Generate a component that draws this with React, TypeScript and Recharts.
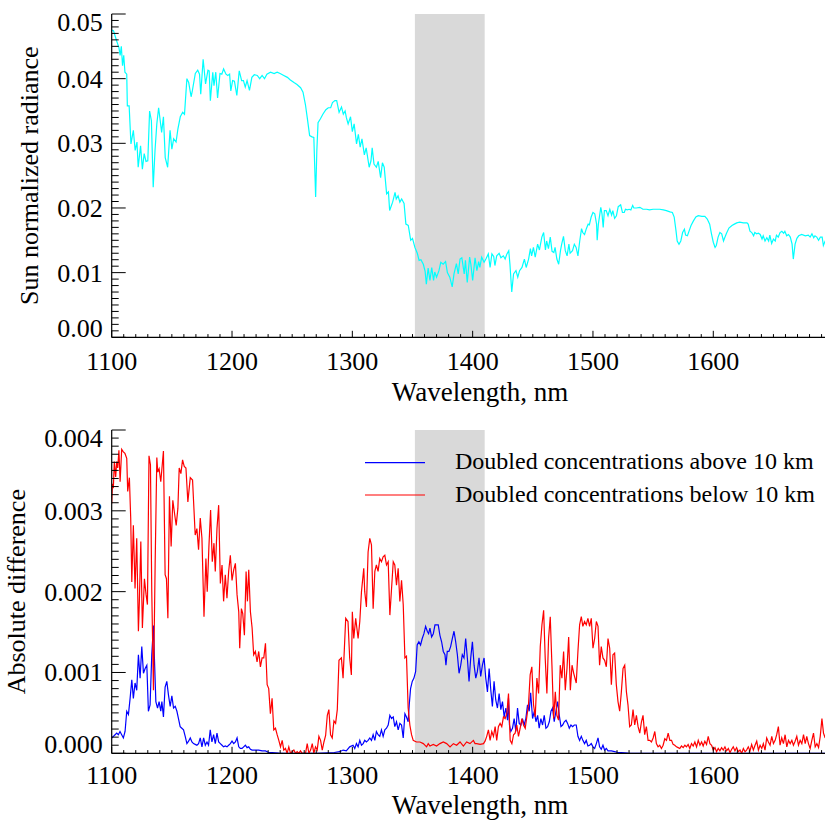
import React from 'react';
import { LineChart, Line, XAxis, YAxis, ReferenceArea, Legend } from 'recharts';

const FONT = '"Liberation Serif", "Times New Roman", serif';

// shared wavelength axis (nm) and shaded window
const xDomain: [number, number] = [1100, 1700];
const bandNm: [number, number] = [1352, 1410];
const xLabels = [1100, 1200, 1300, 1400, 1500, 1600];
const xTicks = Array.from({ length: 61 }, (_, i) => 1100 + i * 10);
const topYTicks = Array.from({ length: 51 }, (_, i) => i / 1000);
const bottomYTicks = Array.from({ length: 41 }, (_, i) => i / 10000);

// top panel: sun normalized radiance [nm, value]
const radiance: [number, number][] = [
  [1100, 0.0475], [1101.5, 0.0474], [1104, 0.0459], [1106, 0.0448], [1107, 0.0436], [1108, 0.045],
  [1109, 0.042], [1110, 0.0436], [1111, 0.041], [1112.5, 0.0407], [1113, 0.0358], [1114.5, 0.0358],
  [1116, 0.0299], [1118, 0.032], [1119.5, 0.0289], [1121, 0.0302], [1122, 0.0263], [1124, 0.0296],
  [1125.5, 0.026], [1127, 0.0284], [1128.5, 0.0272], [1130, 0.0273], [1131.5, 0.035], [1133, 0.0335],
  [1134.5, 0.0232], [1136, 0.0289], [1137.5, 0.033], [1139, 0.0355], [1140, 0.034], [1141.5, 0.0317],
  [1143, 0.0341], [1144.5, 0.0278], [1146.5, 0.0263], [1148.5, 0.032], [1150, 0.0291], [1151.5, 0.0307],
  [1153.5, 0.0302], [1155, 0.0322], [1157, 0.0341], [1159, 0.0348], [1160.5, 0.0345], [1162.5, 0.04],
  [1164, 0.0394], [1166, 0.0372], [1167, 0.0381], [1169.5, 0.0408], [1171.5, 0.0413], [1173, 0.0407],
  [1174, 0.0376], [1176, 0.043], [1178, 0.0392], [1180, 0.0413], [1181, 0.0412], [1182, 0.0366],
  [1184, 0.041], [1185, 0.0389], [1186.5, 0.041], [1188, 0.037], [1190, 0.0408], [1191.5, 0.0407],
  [1193, 0.0415], [1195, 0.0407], [1196.5, 0.0405], [1198, 0.0407], [1199, 0.0381], [1200.5, 0.0397],
  [1202, 0.0396], [1204, 0.0374], [1206, 0.0412], [1208, 0.0397], [1209.5, 0.0397], [1211, 0.0387],
  [1212.5, 0.0397], [1214.5, 0.0382], [1216.5, 0.0402], [1218.5, 0.0406], [1221, 0.0405], [1223, 0.04],
  [1225, 0.0405], [1227, 0.04], [1229, 0.0407], [1232, 0.041], [1235, 0.0408], [1237.5, 0.041],
  [1240, 0.0408], [1243, 0.0405], [1246, 0.0402], [1248.5, 0.0398], [1251.5, 0.0394], [1254, 0.0391],
  [1257, 0.0386], [1259, 0.0379], [1261, 0.036], [1262.5, 0.034], [1264.5, 0.0312], [1266.5, 0.031],
  [1268, 0.0309], [1269.5, 0.0217], [1270.5, 0.0289], [1271.5, 0.0332], [1273.5, 0.0338], [1275.5, 0.0345],
  [1278, 0.0352], [1280, 0.0355], [1282, 0.0355], [1283.5, 0.0363], [1285.5, 0.0366], [1287, 0.0366],
  [1289, 0.0348], [1291, 0.0356], [1292.5, 0.0345], [1294, 0.035], [1295, 0.034], [1296.5, 0.033],
  [1298.5, 0.0341], [1300, 0.0318], [1301.5, 0.033], [1303.5, 0.0299], [1305, 0.0314], [1306.5, 0.0294],
  [1308, 0.0307], [1310, 0.0282], [1311.5, 0.0293], [1314, 0.0263], [1315.5, 0.0273], [1316.5, 0.0293],
  [1318, 0.0268], [1320, 0.0263], [1321.5, 0.0272], [1323.5, 0.0247], [1325, 0.027], [1326.5, 0.0263],
  [1328.5, 0.0222], [1330, 0.0225], [1331, 0.0196], [1333.5, 0.0209], [1335.5, 0.0224], [1336.5, 0.0214],
  [1338, 0.0219], [1339.5, 0.0209], [1341, 0.0214], [1343, 0.0207], [1344.5, 0.0175], [1346.5, 0.0173],
  [1348.5, 0.015], [1350, 0.0153], [1352, 0.0139], [1354, 0.013], [1355.5, 0.0119], [1357, 0.012],
  [1359, 0.0113], [1360.5, 0.0102], [1361.5, 0.0082], [1363, 0.0107], [1364.5, 0.0088], [1366, 0.0108],
  [1367.5, 0.0088], [1368.5, 0.0101], [1370, 0.0093], [1372, 0.0103], [1373.5, 0.0116], [1375.5, 0.0113],
  [1377.5, 0.0117], [1379, 0.01], [1381, 0.0093], [1383, 0.0078], [1384.5, 0.0098], [1386.5, 0.0114],
  [1388, 0.0098], [1389.5, 0.0121], [1391, 0.0123], [1393, 0.0098], [1394, 0.0119], [1395.5, 0.0085],
  [1397.5, 0.0124], [1398.5, 0.0113], [1400, 0.0088], [1402, 0.0123], [1403.5, 0.0103], [1405, 0.0117],
  [1406, 0.0108], [1407.5, 0.0124], [1409.5, 0.0116], [1411, 0.0121], [1413, 0.0129], [1414.5, 0.0108],
  [1416, 0.0129], [1417.5, 0.0125], [1418.5, 0.0111], [1420, 0.0126], [1422, 0.013], [1423.5, 0.0123],
  [1425.5, 0.0126], [1427, 0.0121], [1428.5, 0.0129], [1430, 0.0134], [1431, 0.0113], [1432.5, 0.007],
  [1434, 0.0098], [1436, 0.0103], [1437.5, 0.0093], [1439, 0.0103], [1441, 0.0108], [1443, 0.0121],
  [1444.5, 0.0108], [1446.5, 0.0121], [1448, 0.0137], [1449, 0.0126], [1450.5, 0.0139], [1452, 0.0124],
  [1454, 0.0144], [1455.5, 0.0135], [1457.5, 0.0155], [1459, 0.0162], [1460.5, 0.0135], [1461.5, 0.0149],
  [1463, 0.0137], [1464.5, 0.0155], [1466, 0.0133], [1467.5, 0.0131], [1468.5, 0.0139], [1470, 0.0121],
  [1471.5, 0.0113], [1473, 0.0134], [1474, 0.0144], [1475.5, 0.0156], [1477, 0.0134], [1478.5, 0.0126],
  [1480, 0.0144], [1481, 0.013], [1483, 0.0134], [1484.5, 0.0144], [1486, 0.0139], [1487.5, 0.0126],
  [1489, 0.0149], [1490.5, 0.0168], [1491.5, 0.0162], [1493, 0.0159], [1494.5, 0.0168], [1496, 0.0175],
  [1497, 0.0174], [1498.5, 0.0186], [1500, 0.0193], [1501.5, 0.0191], [1503, 0.0175], [1503.5, 0.015],
  [1504.5, 0.0175], [1506.5, 0.0201], [1507.5, 0.0191], [1508.5, 0.017], [1509.5, 0.0196], [1511, 0.0196],
  [1512.5, 0.0188], [1514, 0.0198], [1515.5, 0.0189], [1516.5, 0.0196], [1518, 0.0184], [1519.5, 0.0188],
  [1521, 0.0202], [1523, 0.0205], [1524.5, 0.0193], [1526, 0.0193], [1527, 0.0198], [1528.5, 0.0197],
  [1530, 0.0198], [1531.5, 0.0197], [1533, 0.0204], [1534, 0.02], [1536, 0.02], [1539, 0.0201],
  [1541.5, 0.0198], [1544.5, 0.0198], [1547, 0.0197], [1550, 0.0198], [1553, 0.0198], [1555.5, 0.0198],
  [1558.5, 0.0197], [1561, 0.0196], [1564, 0.0194], [1566, 0.0193], [1567.5, 0.0186], [1569, 0.0165],
  [1570, 0.0149], [1571.5, 0.0144], [1573, 0.0149], [1574.5, 0.0162], [1576, 0.0167], [1577, 0.0158],
  [1578.5, 0.0157], [1580, 0.0165], [1581.5, 0.0173], [1583.5, 0.018], [1585.5, 0.0186], [1587.5, 0.0188],
  [1590.5, 0.0187], [1593, 0.0187], [1595, 0.0183], [1597, 0.0175], [1598.5, 0.016], [1600, 0.0147],
  [1601.5, 0.0139], [1602.5, 0.0142], [1604, 0.0155], [1605.5, 0.0162], [1607, 0.016], [1608.5, 0.0149],
  [1609.5, 0.0154], [1611, 0.0161], [1613, 0.0169], [1615.5, 0.0173], [1617.5, 0.0175], [1619.5, 0.0177],
  [1622, 0.0178], [1625, 0.0177], [1628, 0.0177], [1629, 0.0175], [1630.5, 0.0164], [1632, 0.0162],
  [1633.5, 0.0157], [1634.5, 0.0162], [1636, 0.016], [1637.5, 0.0161], [1639, 0.0159], [1640.5, 0.0152],
  [1641.5, 0.0157], [1643, 0.0149], [1644.5, 0.0154], [1646, 0.0149], [1647, 0.0158], [1648.5, 0.0145],
  [1650, 0.0152], [1651.5, 0.0149], [1652.5, 0.0158], [1654, 0.0155], [1655.5, 0.0162], [1657, 0.0164],
  [1658.5, 0.0161], [1659.5, 0.0164], [1661, 0.0157], [1662.5, 0.0159], [1664, 0.0155], [1665.5, 0.0144],
  [1666.5, 0.0121], [1668, 0.0144], [1669.5, 0.0153], [1671, 0.0157], [1673.5, 0.0159], [1676.5, 0.0157],
  [1679, 0.0158], [1680.5, 0.0155], [1682, 0.016], [1683.5, 0.0154], [1684.5, 0.0157], [1686, 0.0155],
  [1687.5, 0.015], [1689, 0.0155], [1690.5, 0.0155], [1691.5, 0.0142], [1693, 0.0149], [1695, 0.015],
];

// bottom panel: doubled concentrations above 10 km [nm, value]
const above: [number, number][] = [
  [1100, 0.00019], [1101.4, 0.00021], [1102.8, 0.00023], [1104.2, 0.00025], [1105.5, 0.00023], [1106.9, 0.00027],
  [1108.3, 0.00023], [1109.7, 0.00019], [1111.1, 0.00027], [1112.5, 0.00052], [1113.9, 0.00048], [1115.3, 0.00068],
  [1116.7, 0.00091], [1118, 0.00068], [1119.4, 0.00087], [1120.8, 0.00078], [1122.2, 0.00122], [1123.6, 0.00093],
  [1125, 0.00132], [1126.4, 0.00099], [1127.8, 0.00105], [1129.2, 0.00109], [1130.5, 0.00052], [1131.9, 0.0006],
  [1133.3, 0.00122], [1134.7, 0.00158], [1135.5, 0.00118], [1136.7, 0.00064], [1138.1, 0.00056], [1139.4, 0.00064],
  [1140.8, 0.00052], [1141.7, 0.00064], [1143, 0.00045], [1144.4, 0.00082], [1145.8, 0.00089], [1147.2, 0.00072],
  [1148.6, 0.00058], [1150, 0.00071], [1151.4, 0.00056], [1152.8, 0.00058], [1154.2, 0.00052], [1155.5, 0.00043],
  [1156.9, 0.00033], [1158.3, 0.00031], [1159.7, 0.00029], [1161.1, 0.00021], [1162.5, 0.00012], [1163.9, 0.00015],
  [1165.3, 0.00019], [1166.7, 0.00014], [1168, 0.00012], [1169.4, 0.00011], [1170.8, 0.0001], [1172.2, 0.00012],
  [1173.6, 0.00019], [1175, 0.00008], [1176.4, 0.00019], [1177.8, 0.0001], [1179.2, 0.00014], [1180.5, 0.0001],
  [1181.9, 0.00029], [1183.3, 0.00014], [1184.7, 0.00023], [1186.1, 0.00012], [1187.5, 0.00025], [1188.9, 0.00014],
  [1190.3, 0.00012], [1191.7, 0.0001], [1193, 0.00008], [1194.4, 0.00009], [1195.8, 0.00008], [1197.2, 0.0001],
  [1198.6, 0.00012], [1200, 0.00015], [1201.4, 0.00012], [1202.8, 0.00014], [1204.2, 0.00019], [1205.6, 0.00008],
  [1206.9, 0.00006], [1208.3, 0.00006], [1209.7, 0.00008], [1211.1, 0.0001], [1212.5, 0.00007], [1213.9, 0.00008],
  [1215.3, 0.00005], [1216.7, 0.00004], [1219.4, 0.00004], [1222.2, 0.00004], [1225, 0.00003], [1227.8, 0.00003],
  [1230.5, 0.00001], [1233.3, 0.00001], [1238.9, 0.000004], [1247.2, 0], [1270, 0], [1285, 0.00001],
  [1289.5, 0.00002], [1292.3, 0.00004], [1295, 0.00003], [1297.8, 0.00008], [1300.6, 0.0001], [1302, 0.00006],
  [1303.4, 0.00012], [1304.8, 0.00008], [1306.2, 0.00016], [1307.6, 0.0001], [1309, 0.00012], [1310.3, 0.00016],
  [1311.7, 0.00014], [1313.1, 0.00016], [1314.5, 0.00019], [1315.9, 0.00016], [1317.3, 0.00023], [1318.7, 0.00016],
  [1320, 0.00027], [1321.4, 0.00023], [1322.8, 0.00021], [1324.2, 0.00029], [1325.6, 0.00021], [1327, 0.00029],
  [1328.4, 0.00031], [1329.8, 0.00035], [1331.2, 0.00047], [1332.6, 0.00043], [1334, 0.00045], [1335.3, 0.00033],
  [1336.7, 0.00039], [1338.1, 0.00029], [1339.5, 0.00037], [1340.9, 0.00035], [1342.3, 0.00019], [1343.7, 0.00049],
  [1345, 0.00045], [1346.4, 0.00039], [1347.3, 0.0006], [1348.4, 0.0008], [1349.8, 0.00089], [1351.2, 0.00093],
  [1352.6, 0.00101], [1353.9, 0.00134], [1355.3, 0.00138], [1356.7, 0.00134], [1358.1, 0.00142], [1359.5, 0.00148],
  [1360.9, 0.00157], [1362.3, 0.00151], [1363.4, 0.00148], [1364.5, 0.00155], [1365.9, 0.00144], [1367.3, 0.00148],
  [1368.7, 0.00159], [1370, 0.00159], [1371.4, 0.00159], [1372.8, 0.00146], [1374.2, 0.00138], [1375.6, 0.00126],
  [1377, 0.00122], [1377.8, 0.00109], [1378.9, 0.00126], [1380.3, 0.00126], [1381.7, 0.00132], [1383.1, 0.00142],
  [1384.5, 0.00151], [1385.9, 0.00138], [1387.3, 0.00122], [1388.7, 0.00099], [1390.1, 0.00109], [1391.4, 0.00122],
  [1392.8, 0.00118], [1394.2, 0.00142], [1395.6, 0.00118], [1397, 0.00089], [1398.4, 0.00118], [1399.8, 0.00138],
  [1401.2, 0.00109], [1402.6, 0.00093], [1403.9, 0.00101], [1405.3, 0.00118], [1406.7, 0.00095], [1408.1, 0.00109],
  [1409.5, 0.00118], [1410.9, 0.00093], [1412.3, 0.00076], [1413.7, 0.00105], [1415.1, 0.00078], [1416.4, 0.00058],
  [1417.8, 0.00089], [1419.2, 0.00066], [1420.6, 0.00056], [1422, 0.00074], [1423.4, 0.00054], [1424.8, 0.00064],
  [1426.2, 0.00045], [1427.6, 0.00056], [1429, 0.00041], [1429.8, 0.00068], [1430.6, 0.00035], [1431.7, 0.00027],
  [1433.1, 0.00031], [1434.5, 0.00043], [1435.9, 0.00027], [1437.3, 0.00056], [1438.7, 0.00037], [1440.1, 0.00035],
  [1441.4, 0.00043], [1442.8, 0.00035], [1444.2, 0.00043], [1445.6, 0.0006], [1447, 0.00052], [1448.2, 0.00075],
  [1449.8, 0.00043], [1451.2, 0.00052], [1452.6, 0.00039], [1454, 0.00047], [1455.3, 0.00031], [1456.7, 0.00043],
  [1458.1, 0.00035], [1459.5, 0.00047], [1460.9, 0.00031], [1462.3, 0.00033], [1463.7, 0.00039], [1465.1, 0.00052],
  [1466.4, 0.00056], [1467.8, 0.00039], [1469.2, 0.00052], [1470.6, 0.00064], [1472, 0.00047], [1473.4, 0.00033],
  [1474.8, 0.00035], [1476.2, 0.00039], [1477.6, 0.00041], [1478.9, 0.00037], [1480.3, 0.00031], [1481.7, 0.00035],
  [1483.1, 0.00033], [1484.5, 0.00035], [1486.1, 0.00035], [1487.5, 0.00021], [1488.9, 0.00016], [1490.3, 0.00021],
  [1491.6, 0.00016], [1493, 0.00012], [1494.4, 0.00016], [1495.8, 0.00009], [1497.2, 0.0001], [1498.6, 0.00012],
  [1500, 0.00008], [1501.4, 0.00006], [1502.8, 0.00012], [1504.2, 0.00019], [1505.5, 0.00008], [1506.9, 0.00005],
  [1508.3, 0.0001], [1509.7, 0.00004], [1511.1, 0.00006], [1512.5, 0.00003], [1515.3, 0.00003], [1518, 0.00002],
  [1520.8, 0.00001], [1523.6, 0.00001], [1529.1, 0.000004], [1540.3, 0], [1600, 0], [1695, 0],
];

// bottom panel: doubled concentrations below 10 km [nm, value]
const below: [number, number][] = [
  [1100, 0.00309], [1100.6, 0.00332], [1101.4, 0.0033], [1102.2, 0.00361], [1103.3, 0.00342], [1104.2, 0.00361],
  [1105, 0.00353], [1106, 0.00375], [1107, 0.00336], [1108.3, 0.00376], [1109.7, 0.00373], [1111, 0.00371],
  [1112.5, 0.00365], [1113.3, 0.00324], [1114.7, 0.00341], [1115.8, 0.00291], [1116.7, 0.00212], [1118, 0.00282],
  [1119.4, 0.00204], [1120.8, 0.00266], [1122.2, 0.00151], [1123, 0.00188], [1124.2, 0.00262], [1125.5, 0.00155],
  [1127.2, 0.00216], [1128.6, 0.00196], [1129.7, 0.00184], [1131, 0.00368], [1132.2, 0.00357], [1133.3, 0.002],
  [1134.7, 0.00078], [1136.1, 0.00233], [1137.5, 0.00366], [1138.3, 0.00348], [1139.4, 0.00352], [1140.8, 0.00336],
  [1143, 0.00374], [1144.4, 0.00221], [1145.5, 0.00216], [1146.7, 0.00167], [1148, 0.00318], [1149.4, 0.00256],
  [1150.8, 0.00313], [1152.2, 0.00297], [1153.6, 0.00282], [1155, 0.00303], [1156.1, 0.00353], [1157.5, 0.00346],
  [1158.9, 0.00363], [1160.3, 0.00355], [1161.7, 0.00353], [1163.3, 0.00311], [1165.3, 0.00341], [1167.2, 0.00338],
  [1169.4, 0.0027], [1170.8, 0.00278], [1172.2, 0.00252], [1173.6, 0.00291], [1175, 0.00266], [1176.7, 0.00169],
  [1178.3, 0.00241], [1179.4, 0.002], [1180.8, 0.00256], [1182.2, 0.00301], [1183.6, 0.00237], [1185, 0.0026],
  [1186.1, 0.00225], [1187.5, 0.00278], [1188.9, 0.00307], [1190.3, 0.0021], [1191.7, 0.00233], [1193, 0.00188],
  [1194.4, 0.00221], [1195.8, 0.00192], [1197.2, 0.00225], [1198.6, 0.00245], [1200, 0.00214], [1201.4, 0.00227],
  [1202.8, 0.00235], [1204.2, 0.00196], [1205.6, 0.00175], [1206.4, 0.0013], [1207.8, 0.00179], [1208.9, 0.00173],
  [1210.3, 0.00146], [1211.7, 0.00225], [1212.8, 0.00188], [1213.9, 0.00227], [1215.3, 0.00175], [1216.7, 0.00155],
  [1218, 0.00122], [1219.4, 0.00126], [1220.8, 0.00113], [1222.2, 0.00126], [1223.6, 0.00107], [1225, 0.00118],
  [1226.4, 0.00118], [1227.8, 0.00136], [1229.2, 0.00085], [1230.5, 0.0008], [1231.9, 0.00049], [1233.3, 0.00068],
  [1234.7, 0.00029], [1236.1, 0.00031], [1237.5, 0.00023], [1238.9, 0.00016], [1240.3, 0.00008], [1241.7, 0.00016],
  [1243, 0.00004], [1244.4, 0.00006], [1245.8, 0], [1247.2, 0.00008], [1248.6, 0], [1250, 0.00002],
  [1251.4, 0.00004], [1252.8, 0], [1254.2, 0.00002], [1255.5, 0], [1256.9, 0.00003], [1258.3, 0],
  [1261.1, 0], [1262.5, 0.00012], [1263.9, 0], [1265.3, 0.00004], [1266.7, 0.00012], [1268, 0],
  [1269.4, 0.00008], [1270.8, 0.00004], [1272.2, 0.00021], [1273.6, 0.00016], [1275, 0.00004], [1276.4, 0.00014],
  [1277.8, 0.00022], [1279.2, 0.00047], [1280.5, 0.00054], [1281.9, 0.00023], [1283.3, 0.00019], [1284.7, 0.0004],
  [1286.1, 0.00037], [1287.5, 0.00054], [1288.9, 0.00115], [1290.9, 0.00118], [1292.3, 0.00093], [1294.5, 0.00167],
  [1296.4, 0.00163], [1297.8, 0.00118], [1299.2, 0.00097], [1300, 0.00175], [1301.2, 0.00142], [1302.8, 0.00167],
  [1304.8, 0.00142], [1306.2, 0.00163], [1307.6, 0.002], [1309.5, 0.00229], [1310.3, 0.002], [1311.7, 0.00181],
  [1313.1, 0.00249], [1314.5, 0.00266], [1315.9, 0.00258], [1317.3, 0.00179], [1318.7, 0.00225], [1320, 0.00233],
  [1321.4, 0.00225], [1322.8, 0.00241], [1324.2, 0.00237], [1325.6, 0.00243], [1327, 0.00245], [1328.4, 0.00233],
  [1329.8, 0.00237], [1331.2, 0.00171], [1332.6, 0.00204], [1334, 0.00237], [1335.3, 0.00233], [1336.7, 0.00208],
  [1338.1, 0.00229], [1339.5, 0.00188], [1340.9, 0.00214], [1342.3, 0.00184], [1343.7, 0.00118], [1345, 0.0012],
  [1346.4, 0.00056], [1347.8, 0.00035], [1349.2, 0.00023], [1350.6, 0.00016], [1352, 0.00015], [1353.4, 0.00014],
  [1356.2, 0.00014], [1359, 0.00012], [1361.7, 0.00008], [1363.1, 0.00012], [1364.5, 0.00009], [1367.3, 0.00011],
  [1370, 0.00009], [1372.8, 0.00012], [1375.6, 0.00014], [1378.4, 0.00012], [1381.2, 0.00008], [1384, 0.00012],
  [1386.7, 0.0001], [1389.5, 0.00014], [1392.3, 0.00009], [1395, 0.00014], [1397.8, 0.00012], [1400.6, 0.00016],
  [1402, 0.00012], [1403.4, 0.00012], [1406.2, 0.00011], [1409, 0.00012], [1410.3, 0.00015], [1411.7, 0.00021],
  [1413.1, 0.00029], [1414.5, 0.00016], [1415.9, 0.00027], [1417.3, 0.00021], [1418.7, 0.00033], [1420, 0.00016],
  [1421.4, 0.00033], [1422.8, 0.00037], [1424.2, 0.00033], [1425.6, 0.00045], [1427, 0.00043], [1428.4, 0.00049],
  [1429.8, 0.00074], [1431.2, 0.00016], [1432.6, 0.00012], [1434, 0.00023], [1435.3, 0.00025], [1436.7, 0.00035],
  [1438.1, 0.00021], [1439.5, 0.00031], [1440.9, 0.00043], [1442.3, 0.00035], [1443.7, 0.00031], [1445, 0.00045],
  [1446.4, 0.0006], [1447.8, 0.00097], [1449.2, 0.00107], [1450.6, 0.0006], [1452, 0.00045], [1453.4, 0.00093],
  [1454.8, 0.00074], [1456.2, 0.00132], [1457.6, 0.00159], [1459, 0.00177], [1460.3, 0.00118], [1461.7, 0.00074],
  [1463.1, 0.00142], [1464.5, 0.00169], [1465.9, 0.00109], [1467.3, 0.00043], [1468.7, 0.00076], [1470, 0.00047],
  [1471.4, 0.00041], [1472.8, 0.00109], [1474.2, 0.00093], [1475.6, 0.00126], [1477, 0.00078], [1478.4, 0.00105],
  [1479.8, 0.00144], [1481.2, 0.00078], [1482.6, 0.00109], [1484, 0.00099], [1486.1, 0.00087], [1487.5, 0.00126],
  [1488.9, 0.00159], [1490.3, 0.00169], [1491.6, 0.00157], [1493, 0.00163], [1494.4, 0.00159], [1495.8, 0.00167],
  [1497.2, 0.00157], [1498.6, 0.00167], [1500, 0.0013], [1501.4, 0.00142], [1502.8, 0.00163], [1504.2, 0.00157],
  [1505.5, 0.00109], [1506.9, 0.00132], [1508.3, 0.00118], [1509.7, 0.00115], [1511.1, 0.00107], [1512.5, 0.00142],
  [1513.9, 0.0013], [1515.3, 0.00085], [1516.6, 0.00122], [1518, 0.00124], [1519.4, 0.00085], [1520.8, 0.00064],
  [1522.2, 0.00052], [1523.6, 0.00076], [1525, 0.00105], [1526.4, 0.00109], [1527.8, 0.00076], [1529.1, 0.0006],
  [1530.5, 0.00033], [1531.9, 0.00035], [1533.3, 0.00054], [1534.7, 0.00035], [1536.1, 0.00047], [1537.5, 0.00033],
  [1538.9, 0.00025], [1540.3, 0.00039], [1541.6, 0.00047], [1543, 0.00023], [1544.4, 0.00033], [1545.8, 0.00016],
  [1547.2, 0.00016], [1548.6, 0.00014], [1550, 0.00019], [1551.4, 0.00027], [1552.7, 0.00012], [1554.1, 0.00008],
  [1555.5, 0.0001], [1556.9, 0.00006], [1558.3, 0.0001], [1559.7, 0.00018], [1561.1, 0.00016], [1562.5, 0.00025],
  [1563.9, 0.00016], [1565.3, 0.00016], [1566.6, 0.00011], [1568, 0.0001], [1569.4, 0.00008], [1570.8, 0.00007],
  [1572.2, 0.00006], [1573.6, 0.00009], [1575, 0.00007], [1576.4, 0.0001], [1577.7, 0.00008], [1579.1, 0.00011],
  [1580.5, 0.00006], [1581.9, 0.00012], [1583.3, 0.00009], [1584.7, 0.00014], [1586.1, 0.00008], [1587.5, 0.00016],
  [1588.9, 0.0001], [1590.3, 0.00014], [1591.6, 0.00009], [1593, 0.00015], [1594.4, 0.00011], [1595.8, 0.00021],
  [1597.2, 0.00012], [1598.6, 0.0001], [1600, 0.00004], [1601.4, 0.00007], [1602.7, 0.00002], [1604.1, 0.00006],
  [1605.5, 0.00003], [1606.9, 0.00007], [1608.3, 0.00004], [1609.7, 0.00008], [1611.1, 0.00003], [1612.5, 0.00006],
  [1613.9, 0.00001], [1615.3, 0.00005], [1616.6, 0.00008], [1618, 0.00003], [1619.4, 0.00007], [1620.8, 0.00002],
  [1622.2, 0.00004], [1623.6, 0], [1625, 0.00006], [1626.4, 0.00002], [1627.7, 0.00004], [1629.1, 0.00008],
  [1630.5, 0.00003], [1631.9, 0.00011], [1633.3, 0.00004], [1634.7, 0.0001], [1636.1, 0.00015], [1637.5, 0.00004],
  [1638.9, 0.0001], [1640.3, 0.00006], [1641.6, 0.00012], [1643, 0.00004], [1644.4, 0.00019], [1645.8, 0.00014],
  [1647.2, 0.0001], [1648.6, 0.00021], [1650, 0.00012], [1651.4, 0.00016], [1652.7, 0.00023], [1654.1, 0.00033],
  [1655.5, 0.0001], [1656.9, 0.00019], [1658.3, 0.00012], [1659.7, 0.00023], [1661.1, 0.00008], [1662.5, 0.00016],
  [1663.9, 0.00012], [1665.3, 0.00016], [1666.6, 0.0001], [1668, 0.00015], [1669.4, 0.00021], [1670.8, 0.0001],
  [1672.2, 0.00016], [1673.6, 0.00012], [1675, 0.00023], [1676.4, 0.00012], [1677.7, 0.00021], [1679.1, 0.00012],
  [1680.5, 0.00006], [1681.9, 0.00016], [1683.3, 0.00025], [1684.7, 0.00008], [1686.1, 0.00012], [1687.5, 0.00007],
  [1688.9, 0.00021], [1690.3, 0.00043], [1691.6, 0.00025], [1693, 0.00019],
];

const toRows = (pts: [number, number][]) => pts.map(([nm, v]) => ({ nm, v }));

const AXIS = { stroke: '#000', strokeWidth: 1.2 };

function XTick(props: any) {
  const { x, y, payload, side, labelDy = 33 } = props;
  const v = payload.value;
  const major = Math.round(v) % 100 === 0;
  const len = major ? 6.5 : 3.2;
  const dir = side === 'top' ? 1 : -1;
  return (
    <g>
      <line x1={x} x2={x} y1={y} y2={y + dir * len} stroke="#000" strokeWidth={1} />
      {side === 'bottom' && xLabels.includes(v) && (
        <text x={x} y={y + labelDy} textAnchor="middle" fontSize={26} style={{ fontFamily: FONT }} fill="#000">
          {v}
        </text>
      )}
    </g>
  );
}

function YTick(props: any) {
  const { x, y, payload, side, step, digits, count } = props;
  const k = Math.round(payload.value / step);
  const major = k % 10 === 0;
  const len = major ? 14 : 7;
  const dir = side === 'left' ? 1 : -1;
  let dy = 9;
  if (k === 0) dy = 0;
  if (k === count) dy = 16.5;
  return (
    <g>
      <line x1={x} x2={x + dir * len} y1={y} y2={y} stroke="#000" strokeWidth={1} />
      {side === 'left' && major && (
        <text x={x - 9} y={y + dy} textAnchor="end" fontSize={26} style={{ fontFamily: FONT }} fill="#000">
          {(k * step).toFixed(digits)}
        </text>
      )}
    </g>
  );
}

function LegendBox() {
  const rows = [
    { color: '#0000ff', text: 'Doubled concentrations above 10 km', y: 22.7 },
    { color: '#ff0000', text: 'Doubled concentrations below 10 km', y: 55 },
  ];
  return (
    <svg width={470} height={80} style={{ display: 'block' }}>
      {rows.map((r) => (
        <g key={r.text}>
          <line x1={10} x2={70} y1={r.y} y2={r.y} stroke={r.color} strokeWidth={1.2} />
          <text x={100} y={r.y + 6.7} fontSize={24} style={{ fontFamily: FONT }} fill="#000">
            {r.text}
          </text>
        </g>
      ))}
    </svg>
  );
}

const W = 850;
const H = 410;

export default function App() {
  return (
    <div style={{ position: 'absolute', left: 0, top: 0, width: 825, height: 820, overflow: 'hidden', background: '#fff' }}>
      <div style={{ position: 'absolute', left: 0, top: 0 }}>
        <LineChart width={W} height={H} margin={{ top: 14, right: 16.4, bottom: 0, left: 0 }}>
          <ReferenceArea x1={bandNm[0]} x2={bandNm[1]} fill="#d9d9d9" fillOpacity={1} stroke="none" />
          <XAxis dataKey="nm" type="number" domain={xDomain} allowDataOverflow ticks={xTicks} interval={0}
            height={72.7} tickSize={0} tickMargin={0} tickLine={false} axisLine={AXIS}
            tick={<XTick side="bottom" labelDy={33} />}
            label={{ content: () => (
              <text x={480} y={400.5} textAnchor="middle" fontSize={27} style={{ fontFamily: FONT }} fill="#000">Wavelength, nm</text>
            ) }} />
          <XAxis xAxisId="top" orientation="top" dataKey="nm" type="number" domain={xDomain} allowDataOverflow
            ticks={xTicks} interval={0} height={0} tickSize={0} tickMargin={0} tickLine={false} axisLine={AXIS}
            tick={<XTick side="top" />} />
          <YAxis type="number" domain={[0, 0.05]} allowDataOverflow ticks={topYTicks} interval={0} width={111.7}
            tickSize={0} tickMargin={0} tickLine={false} axisLine={AXIS}
            tick={<YTick side="left" step={0.001} digits={2} count={50} />}
            label={{ content: () => (
              <text transform="translate(38,175.7) rotate(-90)" textAnchor="middle" fontSize={26} style={{ fontFamily: FONT }} fill="#000">
                Sun normalized radiance
              </text>
            ) }} />
          <YAxis yAxisId="right" orientation="right" type="number" domain={[0, 0.05]} allowDataOverflow ticks={topYTicks}
            interval={0} width={0} tickSize={0} tickMargin={0} tickLine={false} axisLine={AXIS}
            tick={<YTick side="right" step={0.001} digits={2} count={50} />} />
          <Line data={toRows(radiance)} dataKey="v" stroke="#00ffff" strokeWidth={1.2} dot={false}
            isAnimationActive={false} type="linear" />
        </LineChart>
      </div>
      <div style={{ position: 'absolute', left: 0, top: 410 }}>
        <LineChart width={W} height={H} margin={{ top: 20, right: 16.4, bottom: 0, left: 0 }}>
          <ReferenceArea x1={bandNm[0]} x2={bandNm[1]} fill="#d9d9d9" fillOpacity={1} stroke="none" />
          <XAxis dataKey="nm" type="number" domain={xDomain} allowDataOverflow ticks={xTicks} interval={0}
            height={66.7} tickSize={0} tickMargin={0} tickLine={false} axisLine={AXIS}
            tick={<XTick side="bottom" labelDy={31} />}
            label={{ content: () => (
              <text x={480} y={403.5} textAnchor="middle" fontSize={27} style={{ fontFamily: FONT }} fill="#000">Wavelength, nm</text>
            ) }} />
          <XAxis xAxisId="top" orientation="top" dataKey="nm" type="number" domain={xDomain} allowDataOverflow
            ticks={xTicks} interval={0} height={0} tickSize={0} tickMargin={0} tickLine={false} axisLine={AXIS}
            tick={<XTick side="top" />} />
          <YAxis type="number" domain={[0, 0.004]} allowDataOverflow ticks={bottomYTicks} interval={0} width={111.7}
            tickSize={0} tickMargin={0} tickLine={false} axisLine={AXIS}
            tick={<YTick side="left" step={0.0001} digits={3} count={40} />}
            label={{ content: () => (
              <text transform="translate(25,181.7) rotate(-90)" textAnchor="middle" fontSize={26} style={{ fontFamily: FONT }} fill="#000">
                Absolute difference
              </text>
            ) }} />
          <YAxis yAxisId="right" orientation="right" type="number" domain={[0, 0.004]} allowDataOverflow ticks={bottomYTicks}
            interval={0} width={0} tickSize={0} tickMargin={0} tickLine={false} axisLine={AXIS}
            tick={<YTick side="right" step={0.0001} digits={3} count={40} />} />
          <Legend layout="horizontal" verticalAlign="middle" align="center"
            wrapperStyle={{ left: 355, top: 30, width: 470, height: 80 }} content={() => <LegendBox />} />
          <Line data={toRows(above)} dataKey="v" name="Doubled concentrations above 10 km" stroke="#0000ff"
            strokeWidth={1.2} dot={false} isAnimationActive={false} type="linear" />
          <Line data={toRows(below)} dataKey="v" name="Doubled concentrations below 10 km" stroke="#ff0000"
            strokeWidth={1.2} dot={false} isAnimationActive={false} type="linear" />
        </LineChart>
      </div>
    </div>
  );
}
